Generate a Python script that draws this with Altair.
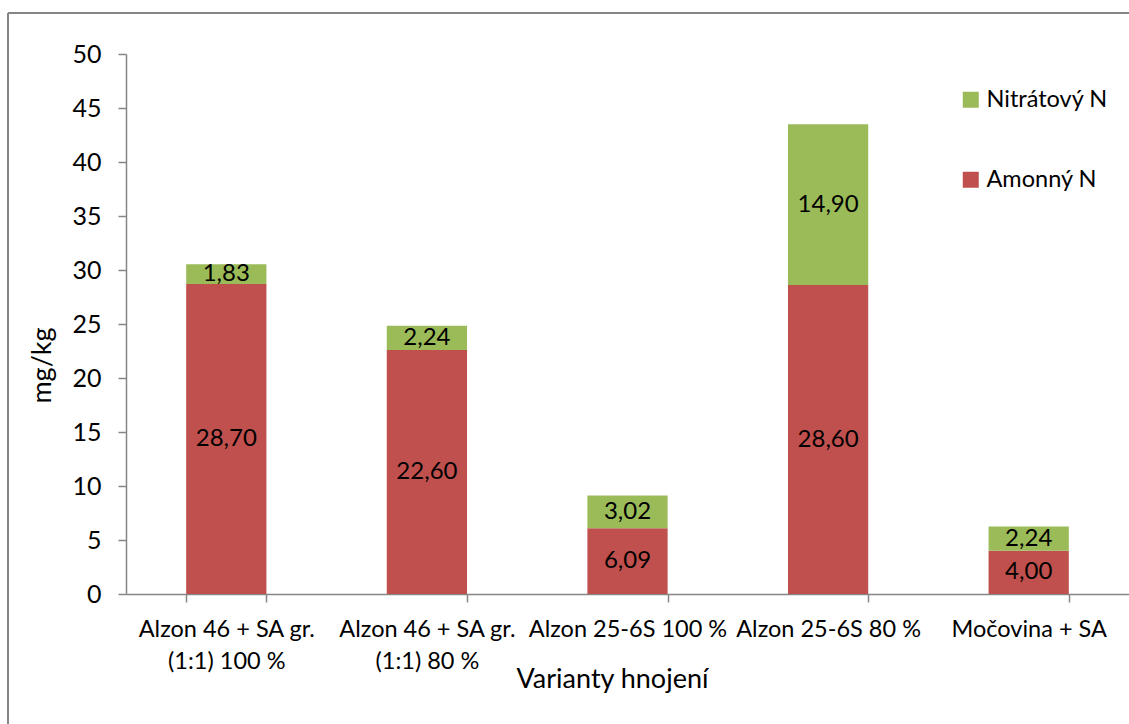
import altair as alt
import pandas as pd

categories = [
    "Alzon 46 + SA gr.|(1:1) 100 %",
    "Alzon 46 + SA gr.|(1:1) 80 %",
    "Alzon 25-6S 100 %",
    "Alzon 25-6S 80 %",
    "Močovina + SA",
]
amonny = [28.70, 22.60, 6.09, 28.60, 4.00]
nitratovy = [1.83, 2.24, 3.02, 14.90, 2.24]
series = ["Nitrátový N", "Amonný N"]
colors = ["#9BBB59", "#C0504D"]
y_ticks = [0, 5, 10, 15, 20, 25, 30, 35, 40, 45, 50]

rows = []
for c, a, n in zip(categories, amonny, nitratovy):
    rows.append({"cat": c, "series": "Amonný N", "ord": 0, "value": a})
    rows.append({"cat": c, "series": "Nitrátový N", "ord": 1, "value": n})
df = pd.DataFrame(rows)

FONT = "Lato"
AX = "#868686"

base = alt.Chart(df).transform_window(
    cum="sum(value)", groupby=["cat"], sort=[alt.SortField("ord")]
).transform_calculate(
    mid="datum.cum - datum.value / 2",
    lbl="replace(format(datum.value, '.2f'), '.', ',')",
)

x_enc = alt.X(
    "cat:N",
    sort=categories,
    scale=alt.Scale(paddingInner=0.6, paddingOuter=0.3),
    axis=alt.Axis(
        title="Varianty hnojení",
        labelExpr="split(datum.label, '|')",
        labelAngle=0,
        labelFont=FONT,
        labelFontSize=23.5,
        labelColor="black",
        labelLineHeight=32,
        labelPadding=15,
        labelBaseline="top",
        tickSize=8,
        tickColor=AX,
        domainColor=AX,
        domainWidth=1.5,
        tickWidth=1.5,
        tickBand="extent",
        titleFont=FONT,
        titleFontSize=27,
        titleFontWeight="normal",
        titleColor="black",
        titleX=486,
        titleY=85,
        titleAlign="center",
        titleBaseline="middle",
        labelLimit=400,
    ),
)

bars = base.mark_bar().encode(
    x=x_enc,
    y=alt.Y(
        "value:Q",
        stack="zero",
        scale=alt.Scale(domain=[0, 50], nice=False),
        axis=alt.Axis(
            title="mg/kg",
            values=y_ticks,
            grid=False,
            labelFont=FONT,
            labelFontSize=25,
            labelColor="black",
            labelPadding=17,
            tickSize=8,
            tickColor=AX,
            tickWidth=1.5,
            domainColor=AX,
            domainWidth=1.5,
            titleFont=FONT,
            titleFontSize=27,
            titleFontWeight="normal",
            titleColor="black",
            titleX=-84,
            titleY=311,
            titleAlign="center",
            titleBaseline="middle",
            titleAngle=-90,
        ),
    ),
    color=alt.Color(
        "series:N",
        scale=alt.Scale(domain=series, range=colors),
        legend=alt.Legend(
            title=None,
            orient="none",
            legendX=833,
            legendY=34,
            symbolType="square",
            symbolSize=256,
            symbolStrokeWidth=0,
            symbolOpacity=1,
            labelFont=FONT,
            labelFontSize=23.5,
            labelColor="black",
            labelOffset=4,
            rowPadding=55,
        ),
    ),
    order=alt.Order("ord:Q", sort="ascending"),
)

labels = base.mark_text(font=FONT, fontSize=24, color="black").encode(
    x=alt.X("cat:N", sort=categories),
    y=alt.Y("mid:Q"),
    text="lbl:N",
)

frame_v = alt.Chart(alt.Data(values=[{}])).mark_rule(color=AX, strokeWidth=2).encode(
    x=alt.value(-118), y=alt.value(-41), y2=alt.value(700)
)
frame_h = alt.Chart(alt.Data(values=[{}])).mark_rule(color=AX, strokeWidth=2).encode(
    x=alt.value(-118), x2=alt.value(1010), y=alt.value(-41)
)

chart = alt.layer(frame_v, frame_h, bars, labels).properties(
    width=1003,
    height=540,
    autosize=alt.AutoSizeParams(type="none"),
    padding={"left": 126, "top": 54, "right": 0, "bottom": 130},
    background="white",
).configure_view(stroke=None)

chart.save("out.html", embed_options={"renderer": "svg", "actions": False})
